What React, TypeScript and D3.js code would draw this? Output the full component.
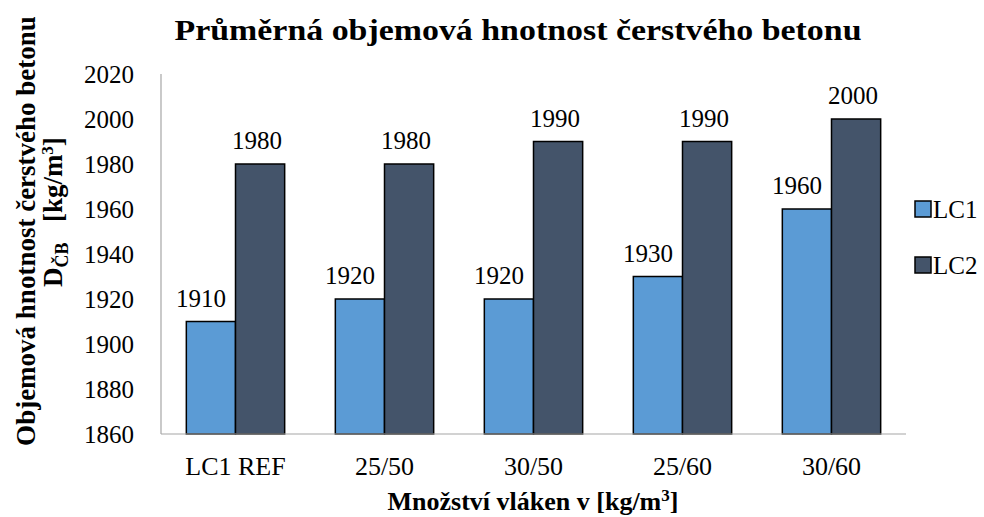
import React from "react";
import * as d3 from "d3";

const categories = ["LC1 REF", "25/50", "30/50", "25/60", "30/60"];
const seriesNames = ["LC1", "LC2"];
const lc1 = [1910, 1920, 1920, 1930, 1960];
const lc2 = [1980, 1980, 1990, 1990, 2000];
const yTicks = [1860, 1880, 1900, 1920, 1940, 1960, 1980, 2000, 2020];
const colors = ["#5b9bd5", "#44546a"];

const W = 984, H = 517;
const M = { left: 161, right: 906, top: 74, bottom: 434 };
const FONT = "Liberation Serif";

export default function App() {
  const x = d3.scaleBand<string>().domain(categories).range([M.left, M.right]).paddingInner(0).paddingOuter(0);
  const y = d3.scaleLinear().domain([1860, 2020]).range([M.bottom, M.top]);
  const bw = x.bandwidth() * 0.33;
  const series = [lc1, lc2];
  return (
    <svg width={W} height={H} style={{ position: "absolute", left: 0, top: 0 }} fontFamily={FONT}>
      <rect x={0} y={0} width={W} height={H} fill="#fff" />
      <text x={518} y={40} textAnchor="middle" fontSize={30} fontWeight="bold" fontFamily={FONT} textLength={687} lengthAdjust="spacingAndGlyphs">
        Průměrná objemová hnotnost čerstvého betonu
      </text>
      {/* y axis */}
      <line x1={M.left} x2={M.left} y1={M.top} y2={M.bottom} stroke="#a6a6a6" strokeWidth={1.2} />
      {yTicks.map((t) => (
        <text key={t} x={134} y={y(t)} dy="0.35em" textAnchor="end" fontSize={25} fontFamily={FONT}>
          {t}
        </text>
      ))}
      {/* bars */}
      {categories.map((c, i) => {
        const cx = (x(c) as number) + x.bandwidth() / 2;
        return series.map((s, j) => {
          const bx = cx - bw + j * bw;
          return (
            <g key={c + j}>
              <rect x={bx} y={y(s[i])} width={bw} height={M.bottom - y(s[i])} fill={colors[j]} stroke="#000" strokeWidth={1.5} />
              <text x={bx + bw / 2 - (j === 0 ? 10 : 3)} y={y(s[i]) - 15} textAnchor="middle" fontSize={25} fontFamily={FONT}>
                {s[i]}
              </text>
            </g>
          );
        });
      })}
      <line x1={M.left} x2={M.right} y1={M.bottom} y2={M.bottom} stroke="#a6a6a6" strokeWidth={1.2} />
      {categories.map((c) => (
        <text key={c} x={(x(c) as number) + x.bandwidth() / 2} y={475} textAnchor="middle" fontSize={26} fontFamily={FONT}>
          {c}
        </text>
      ))}
      <text x={533} y={510} textAnchor="middle" fontSize={26} fontWeight="bold" fontFamily={FONT}>
        Množství vláken v [kg/m<tspan dy={-9} fontSize={17}>3</tspan><tspan dy={9}>]</tspan>
      </text>
      {/* y title */}
      <text transform="translate(35,231) rotate(-90)" x={0} y={0} textAnchor="middle" fontSize={27} fontWeight="bold" fontFamily={FONT}>
        Objemová hnotnost čerstvého betonu
      </text>
      <text transform="translate(62,212) rotate(-90)" x={0} y={0} textAnchor="middle" fontSize={27} fontWeight="bold" fontFamily={FONT}>
        D<tspan dy={6} fontSize={18}>ČB</tspan><tspan dy={-6}>{"\u00a0\u00a0\u00a0[kg/m"}</tspan>
        <tspan dy={-9} fontSize={17}>3</tspan><tspan dy={9}>]</tspan>
      </text>
      {/* legend */}
      {seriesNames.map((n, j) => (
        <g key={n} transform={`translate(915,${209 + j * 56})`}>
          <rect x={0} y={-8} width={16} height={16} fill={colors[j]} stroke="#000" strokeWidth={1.5} />
          <text x={18} y={0} dy="0.35em" fontSize={25} fontFamily={FONT}>{n}</text>
        </g>
      ))}
    </svg>
  );
}
